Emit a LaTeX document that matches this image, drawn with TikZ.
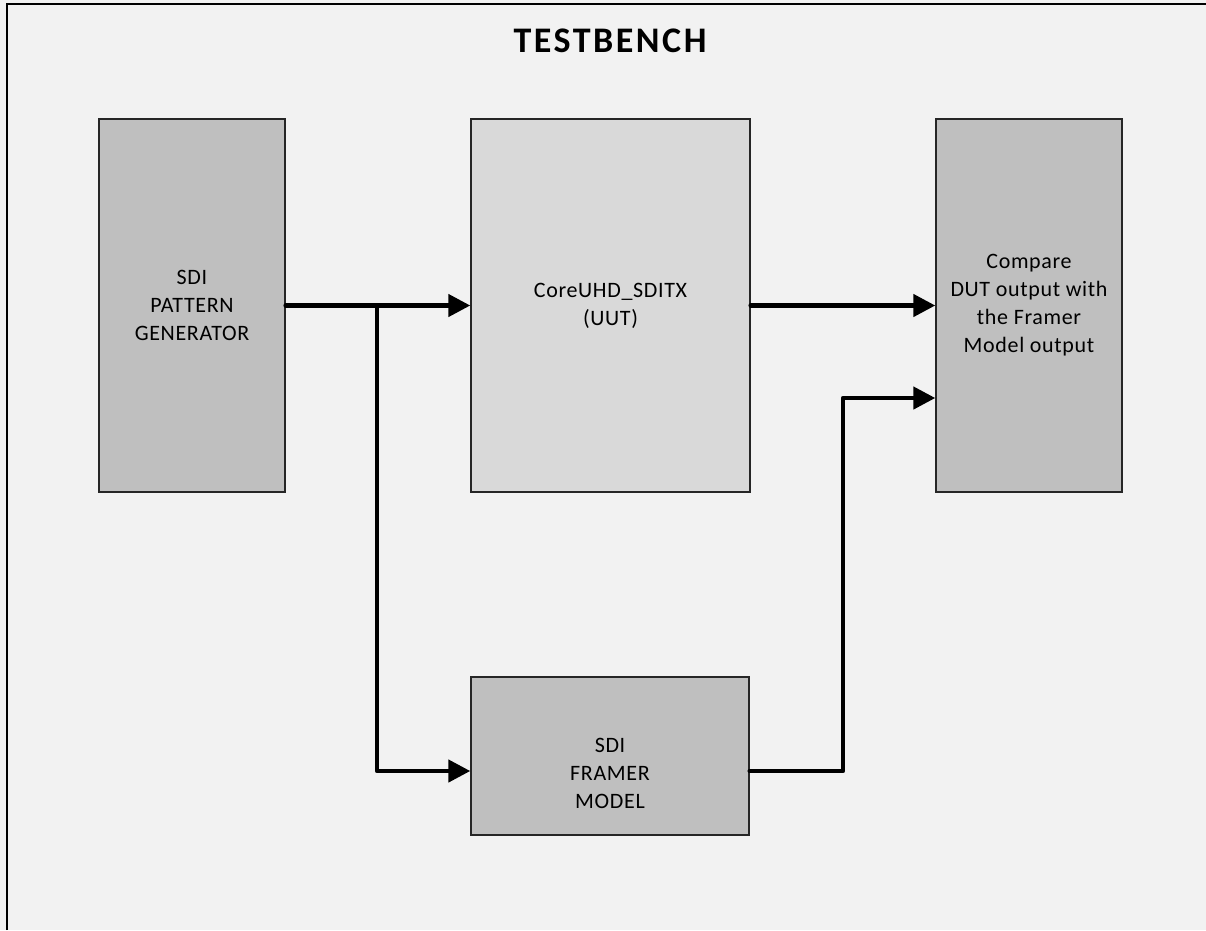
\documentclass[tikz,border=0pt]{standalone}
\usepackage{fontspec}
\setmainfont{Carlito}
\newfontfamily\bodyfont[LetterSpace=3]{Carlito}
\newfontfamily\titlefont[LetterSpace=7]{Carlito}
\usetikzlibrary{arrows.meta}
\definecolor{bgc}{HTML}{F2F2F2}
\definecolor{darkbox}{HTML}{BFBFBF}
\definecolor{lightbox}{HTML}{D9D9D9}
\tikzset{
  blk/.style={draw=black!85, line width=1.4pt, inner sep=0pt, align=center,
    font=\bodyfont\fontsize{22}{28}\selectfont},
  conn/.style={line width=4.5pt, line join=round, line cap=round,
    -{Triangle[length=22pt,width=22pt]}},
  frame/.style={line width=2pt, draw=black},
}
\begin{document}
\begin{tikzpicture}[x=1pt,y=-1pt]
\fill[bgc] (0,0) rectangle (1206,930);
\useasboundingbox (0,0) rectangle (1206,930);
\draw[frame] (6.5,930) -- (6.5,4) -- (1206,4);
\node[font=\titlefont\fontsize{36}{40}\selectfont\bfseries, anchor=base] (title) at (610,52) {TESTBENCH};

\node[blk, fill=darkbox, minimum width=186pt, minimum height=373pt] (gen) at (192,305.5) {SDI\\PATTERN\\GENERATOR};
\node[blk, fill=lightbox, minimum width=279pt, minimum height=373pt] (uut) at (610.5,305.5) {CoreUHD\_SDITX\\(UUT)};
\node[blk, fill=darkbox, minimum width=186pt, minimum height=373pt] (cmp) at (1029,305.5) {Compare\\DUT output with\\the Framer\\Model output};
\node[blk, fill=darkbox, minimum width=278pt, minimum height=158pt] (fr) at (610,756) {};
\node[blk, draw=none, anchor=center] (frt) at (610,773) {SDI\\FRAMER\\MODEL};

\coordinate (br) at (377,305.5);
\coordinate (up) at (843,771);
\draw[conn] (gen.east) -- (uut.west);
\draw[conn] (br) |- ([yshift=-15pt]fr.west);
\draw[conn] (uut.east) -- (cmp.west);
\draw[conn] ([yshift=-15pt]fr.east) -- (up) |- ([yshift=-92.5pt]cmp.west);
\end{tikzpicture}
\end{document}
